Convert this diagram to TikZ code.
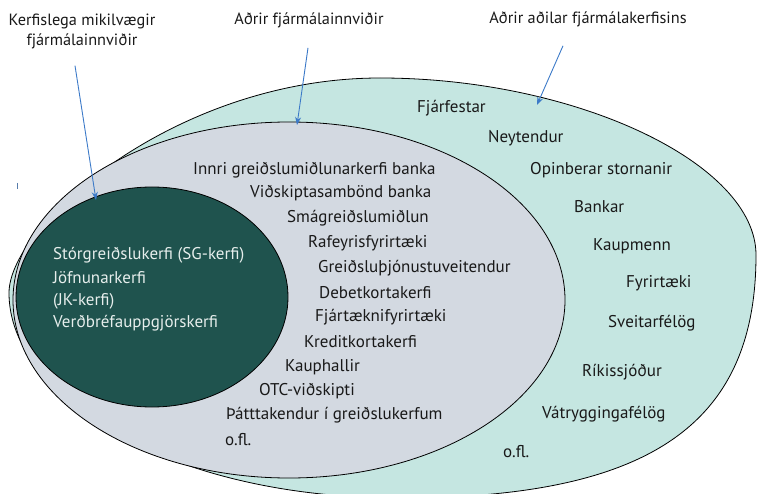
\documentclass[tikz,border=0pt]{standalone}
\usepackage{fontspec}
\setmainfont{PT Sans}
\usepackage{xcolor}
\usepackage{tikz}
\usetikzlibrary{arrows.meta, positioning, calc}
\definecolor{ytrifill}{HTML}{C5E6E1}
\definecolor{innrifill}{HTML}{D3D9E1}
\definecolor{kjarnifill}{HTML}{1F534E}
\definecolor{kjarnitexti}{HTML}{E6EEEC}
\definecolor{pilblar}{HTML}{3C7AC8}

\begin{document}
\begin{tikzpicture}[
    x=1pt, y=-1pt,
    svaedi/.style={draw=black, line width=0.8pt},
    lysing/.style={font=\fontsize{16.3}{20}\selectfont, text=black!90, align=center, inner sep=0pt},
    lidur/.style={font=\fontsize{17}{19}\selectfont, text=black!90, anchor=west, inner sep=0pt},
    kjarnilidur/.style={lidur, text=kjarnitexti},
    pil/.style={draw=pilblar, line width=0.9pt, -{Stealth[length=8pt, width=6pt]}}
]
\useasboundingbox (0,0) rectangle (757,494);

% Outer zone
\filldraw[svaedi, fill=ytrifill] (9,293)
    .. controls (9,225) and (175,78) .. (380,78)
    .. controls (575,78) and (756,163) .. (756,255)
    .. controls (756,425) and (649,498) .. (400,498)
    .. controls (165,498) and (9,395) .. cycle;

% Inner zone
\filldraw[svaedi, fill=innrifill] (289,300) ellipse [x radius=276pt, y radius=178pt];

% Core zone
\filldraw[svaedi, fill=kjarnifill] (152,297) ellipse [x radius=136pt, y radius=110pt];

% Stray mark
\draw[pilblar!60!gray, line width=0.6pt] (17,183) -- (17,189);

% Top labels
\node[lysing] (kerfi) at (82,31) {Kerfislega mikilvægir\\fjármálainnviðir};
\node[lysing] (innvidir) at (309,20) {Aðrir fjármálainnviðir};
\node[lysing] (adilar) at (588,19) {Aðrir aðilar fjármálakerfisins};

% Arrow ends
\coordinate (kerfiend) at (96,200);
\coordinate (innvidirend) at (297,125);
\coordinate (adilarend) at (537,105);

\draw[pil] ([xshift=-7pt, yshift=-17pt]kerfi.south) -- (kerfiend);
\draw[pil] ([xshift=-1pt, yshift=-20pt]innvidir.south) -- (innvidirend);
\draw[pil] ([xshift=-25pt, yshift=-19pt]adilar.south) -- (adilarend);

% Core items
\node[kjarnilidur] (sg) at (53,255) {Stórgreiðslukerfi (SG-kerfi)};
\node[kjarnilidur] (jofn) at (53,278) {Jöfnunarkerfi};
\node[kjarnilidur] (jk) at (53,301) {(JK-kerfi)};
\node[kjarnilidur] (verdbref) at (53,323) {Verðbréfauppgjörskerfi};

% Inner items
\node[lidur] (innri) at (193,170) {Innri greiðslumiðlunarkerfi banka};
\node[lidur] (vidskipta) at (250,193) {Viðskiptasambönd banka};
\node[lidur] (smagr) at (287,218) {Smágreiðslumiðlun};
\node[lidur] (rafeyri) at (308,243) {Rafeyrisfyrirtæki};
\node[lidur] (greidslu) at (318,268) {Greiðsluþjónustuveitendur};
\node[lidur] (debet) at (319,293) {Debetkortakerfi};
\node[lidur] (fjartaekni) at (315,317) {Fjártæknifyrirtæki};
\node[lidur] (kredit) at (304,342) {Kreditkortakerfi};
\node[lidur] (kaupholl) at (285,367) {Kauphallir};
\node[lidur] (otc) at (259,391) {OTC-viðskipti};
\node[lidur] (thatttak) at (226,415) {Þátttakendur í greiðslukerfum};
\node[lidur] (ofl1) at (225,440) {o.fl.};

% Outer items
\node[lidur] (fjarfest) at (417,108) {Fjárfestar};
\node[lidur] (neyt) at (488,138) {Neytendur};
\node[lidur] (opinb) at (530,170) {Opinberar stornanir};
\node[lidur] (bankar) at (574,207) {Bankar};
\node[lidur] (kaupm) at (593,246) {Kaupmenn};
\node[lidur] (fyrirt) at (626,283) {Fyrirtæki};
\node[lidur] (sveit) at (608,323) {Sveitarfélög};
\node[lidur] (rikis) at (582,372) {Ríkissjóður};
\node[lidur] (vatr) at (542,414) {Vátryggingafélög};
\node[lidur] (ofl2) at (503,452) {o.fl.};

\end{tikzpicture}
\end{document}
